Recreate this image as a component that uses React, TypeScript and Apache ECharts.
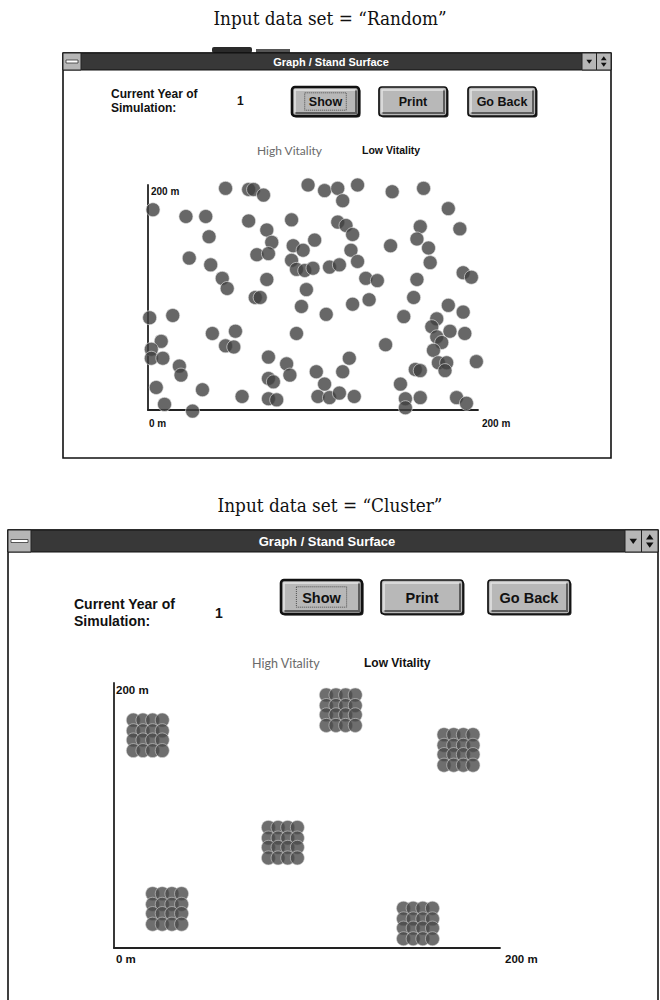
import React, { useEffect, useRef } from "react";
import * as echarts from "echarts";

// ---------- texts ----------
const captions = ["Input data set = \u201cRandom\u201d", "Input data set = \u201cCluster\u201d"];
const windowTitle = "Graph / Stand Surface";
const yearLabel = ["Current Year of", "Simulation:"];
const currentYear = "1";
const buttonLabels = ["Show", "Print", "Go Back"];
const legendLabels = ["High Vitality", "Low Vitality"];
const axisEndLabels = ["0 m", "200 m"];
const axisMin = 0;
const axisMax = 200;

// ---------- data (metres) ----------
const randomTrees: [number, number][] = [
  [3, 178], [47, 197], [61, 196], [64, 196], [70, 191], [97, 200], [23, 172], [35, 172], [61, 168], [87, 169],
  [72, 160], [37, 154], [75, 149], [101, 151], [25, 135], [66, 138], [73, 139], [88, 146], [94, 142], [87, 133],
  [38, 129], [90, 125], [95, 124], [100, 126], [45, 117], [48, 108], [72, 116], [96, 107], [65, 100], [68, 100],
  [107, 195], [115, 197], [118, 186], [127, 200], [148, 194], [167, 197], [182, 179], [115, 167], [120, 164], [124, 156],
  [165, 163], [189, 161], [163, 152], [147, 146], [123, 142], [170, 144], [127, 132], [171, 131], [110, 127], [116, 129],
  [132, 117], [139, 115], [163, 116], [191, 122], [196, 118],
  [93, 92], [1, 82], [15, 84], [39, 68], [53, 70], [90, 68], [8, 61], [47, 57], [52, 56], [2, 54],
  [2, 46], [9, 46], [73, 47], [19, 39], [84, 41], [20, 31], [86, 31], [73, 28], [76, 25], [5, 20],
  [33, 18], [57, 12], [73, 10], [78, 9], [10, 5], [27, -1],
  [108, 85], [124, 94], [134, 98], [161, 100], [182, 93], [191, 87], [155, 83], [175, 81], [172, 74], [183, 70],
  [192, 68], [175, 65], [178, 60], [144, 58], [173, 53], [122, 46], [176, 42], [181, 42], [180, 35], [199, 43],
  [162, 36], [165, 35], [102, 34], [118, 34], [107, 23], [153, 23], [103, 12], [110, 11], [116, 15], [125, 12],
  [156, 10], [165, 11], [156, 2], [187, 11], [193, 6],
];

const clusterA: [number, number][] = [
  [10, 172], [15, 172], [20, 172], [25, 172], [10, 164], [15, 164], [20, 164], [25, 164],
  [10, 157], [15, 157], [20, 157], [25, 157], [10, 149], [15, 149], [20, 149], [25, 149],
];
const clusterB: [number, number][] = [
  [110, 191], [115, 191], [120, 191], [125, 191], [110, 183], [115, 183], [120, 183], [125, 183],
  [110, 176], [115, 176], [120, 176], [125, 176], [110, 168], [115, 168], [120, 168], [125, 168],
];
const clusterC: [number, number][] = [
  [171, 161], [176, 161], [181, 161], [186, 161], [171, 153], [176, 153], [181, 153], [186, 153],
  [171, 146], [176, 146], [181, 146], [186, 146], [171, 138], [176, 138], [181, 138], [186, 138],
];
const clusterD: [number, number][] = [
  [80, 91], [85, 91], [90, 91], [95, 91], [80, 83], [85, 83], [90, 83], [95, 83],
  [80, 76], [85, 76], [90, 76], [95, 76], [80, 68], [85, 68], [90, 68], [95, 68],
];
const clusterE: [number, number][] = [
  [20, 41], [25, 41], [30, 41], [35, 41], [20, 33], [25, 33], [30, 33], [35, 33],
  [20, 26], [25, 26], [30, 26], [35, 26], [20, 18], [25, 18], [30, 18], [35, 18],
];
const clusterF: [number, number][] = [
  [150, 30], [155, 30], [160, 30], [165, 30], [150, 22], [155, 22], [160, 22], [165, 22],
  [150, 15], [155, 15], [160, 15], [165, 15], [150, 7], [155, 7], [160, 7], [165, 7],
];
const clusters = [clusterA, clusterB, clusterC, clusterD, clusterE, clusterF];

// ---------- drawing helpers ----------
const SANS = '"Liberation Sans", Arial, sans-serif';
const HUMAN = 'Lato, "Open Sans", sans-serif';
const SERIF = '"DejaVu Serif", serif';

function txt(x: number, y: number, text: string, size: number, o: any = {}) {
  const align = o.align || "left";
  return {
    type: "text",
    z: 3,
    x,
    y,
    scaleX: o.sx || 1,
    style: {
      text,
      x: 0,
      y: 0,
      font: `${o.weight || "normal"} ${size}px ${o.family || SANS}`,
      fill: o.fill || "#111",
      align,
      textAlign: align,
      verticalAlign: "middle",
      textVerticalAlign: "middle",
    },
  };
}

function chrome(x: number, y: number, w: number, h: number, tb: number, bw: number, ts: number) {
  const els: any[] = [];
  els.push({ type: "rect", z: 0, shape: { x, y, width: w, height: h }, style: { fill: "#fff", stroke: "#111", lineWidth: 1.6 } });
  els.push({ type: "rect", z: 1, shape: { x, y, width: w, height: tb }, style: { fill: "#383838", stroke: "#111", lineWidth: 1 } });
  // system menu box
  els.push({ type: "rect", z: 2, shape: { x, y, width: tb + 1, height: tb }, style: { fill: "#b6b6b6", stroke: "#222", lineWidth: 1 } });
  els.push({ type: "rect", z: 2, shape: { x: x + 3, y: y + tb / 2 - 1.5, width: tb - 5, height: 3 }, style: { fill: "#fff", stroke: "#333", lineWidth: 0.8 } });
  // min / max boxes
  const b1 = x + w - 2 * bw;
  const b2 = x + w - bw;
  els.push({ type: "rect", z: 2, shape: { x: b1, y, width: bw, height: tb }, style: { fill: "#b6b6b6", stroke: "#222", lineWidth: 1 } });
  els.push({ type: "rect", z: 2, shape: { x: b2, y, width: bw, height: tb }, style: { fill: "#b6b6b6", stroke: "#222", lineWidth: 1 } });
  const c1 = b1 + bw / 2;
  const c2 = b2 + bw / 2;
  const my = y + tb / 2;
  const t = tb * 0.17;
  els.push({ type: "polygon", z: 3, shape: { points: [[c1 - t, my - t * 0.6], [c1 + t, my - t * 0.6], [c1, my + t * 0.8]] }, style: { fill: "#111" } });
  els.push({ type: "polygon", z: 3, shape: { points: [[c2 - t, my - t * 0.4], [c2 + t, my - t * 0.4], [c2, my - t * 1.8]] }, style: { fill: "#111" } });
  els.push({ type: "polygon", z: 3, shape: { points: [[c2 - t, my + t * 0.4], [c2 + t, my + t * 0.4], [c2, my + t * 1.8]] }, style: { fill: "#111" } });
  els.push(txt(x + w / 2 - 6, y + tb / 2 + 0.5, windowTitle, ts, { weight: "bold", fill: "#fff", align: "center" }));
  return els;
}

function button(x: number, y: number, w: number, h: number, label: string, size: number, isDefault: boolean) {
  const els: any[] = [
    { type: "rect", z: 1, shape: { x: x + 1.5, y: y + 1.5, width: w, height: h, r: 3 }, style: { fill: "#2a2a2a" } },
    { type: "rect", z: 1, shape: { x, y, width: w, height: h, r: 3 }, style: { fill: "#b8b8b8", stroke: "#111", lineWidth: isDefault ? 2.6 : 1.7 } },
    { type: "polyline", z: 2, shape: { points: [[x + 3, y + h - 3.5], [x + 3, y + 3], [x + w - 3.5, y + 3]] }, style: { stroke: "#e4e4e4", lineWidth: 1.5, fill: null } },
    { type: "polyline", z: 2, shape: { points: [[x + 3.5, y + h - 3], [x + w - 3, y + h - 3], [x + w - 3, y + 3.5]] }, style: { stroke: "#5c5c5c", lineWidth: 2, fill: null } },
    txt(x + w / 2, y + h / 2 + 0.5, label, size, { weight: "bold", align: "center" }),
  ];
  if (isDefault) {
    els.push({
      type: "rect", z: 2,
      shape: { x: x + w * 0.19, y: y + h * 0.2, width: w * 0.62, height: h * 0.6 },
      style: { fill: null, stroke: "#333", lineWidth: 0.8, lineDash: [1, 1] },
    });
  }
  return els;
}

function panel(p: any) {
  const els: any[] = [];
  els.push(...chrome(p.x, p.y, p.w, p.h, p.tb, p.bw, p.ts));
  els.push(txt(p.yearX, p.yearY1, yearLabel[0], p.fs, { weight: "bold" }));
  els.push(txt(p.yearX, p.yearY2, yearLabel[1], p.fs, { weight: "bold" }));
  els.push(txt(p.oneX, (p.yearY1 + p.yearY2) / 2, currentYear, p.fs, { weight: "bold" }));
  buttonLabels.forEach((b, i) => {
    els.push(...button(p.btnX[i], p.btnY, p.btnW[i], p.btnH, b, p.bfs, i === 0));
  });
  els.push(txt(p.legX[0], p.legY, legendLabels[0], p.lfs0, { family: HUMAN, fill: "#6a6a6a" }));
  els.push(txt(p.legX[1], p.legY, legendLabels[1], p.lfs1, { weight: "bold" }));
  els.push(txt(p.ax[0], p.ax[1], axisEndLabels[1], p.afs, { weight: "bold" }));
  els.push(txt(p.ax[2], p.ax[3], axisEndLabels[0], p.afs, { weight: "bold" }));
  els.push(txt(p.ax[4], p.ax[3], axisEndLabels[1], p.afs, { weight: "bold" }));
  return els;
}

const topPanel = {
  x: 63, y: 53, w: 548, h: 405, tb: 17, bw: 14.5, ts: 11,
  yearX: 111, yearY1: 94, yearY2: 108, fs: 12, oneX: 237,
  btnX: [292, 379, 468], btnW: [67, 68, 68], btnY: 87, btnH: 29, bfs: 12.5,
  legX: [257, 362], legY: 150, lfs0: 12, lfs1: 10.5,
  ax: [151, 191, 149, 423, 482], afs: 10,
};
const bottomPanel = {
  x: 8, y: 530, w: 650, h: 475, tb: 22, bw: 16.5, ts: 13,
  yearX: 74, yearY1: 604, yearY2: 621, fs: 14, oneX: 215,
  btnX: [281, 381, 488], btnW: [81, 82, 82], btnY: 580, btnH: 34, bfs: 14.5,
  legX: [252, 364], legY: 663, lfs0: 12.5, lfs1: 12,
  ax: [116, 690, 116, 959, 505], afs: 11.5,
};

function axisX(i: number) {
  return {
    gridIndex: i, type: "value", min: axisMin, max: axisMax, z: 5,
    axisLine: { show: true, onZero: false, lineStyle: { color: "#222", width: 1.8 } },
    axisTick: { show: false }, axisLabel: { show: false }, splitLine: { show: false },
  };
}

export default function App() {
  const ref = useRef<HTMLDivElement>(null);
  useEffect(() => {
    document.body.style.margin = "0";
    const chart = echarts.init(ref.current!, undefined, { renderer: "svg" });
    const elements: any[] = [
      { type: "rect", z: 0, shape: { x: 212, y: 47, width: 40, height: 6, r: 2 }, style: { fill: "#2a2a2a" } },
      { type: "rect", z: 0, shape: { x: 256, y: 49, width: 34, height: 4 }, style: { fill: "#555" } },
      txt(330, 18, captions[0], 19, { family: SERIF, align: "center", sx: 0.89 }),
      txt(330, 505, captions[1], 19, { family: SERIF, align: "center", sx: 0.89 }),
      ...panel(topPanel),
      ...panel(bottomPanel),
    ];
    chart.setOption({
      animation: false,
      backgroundColor: "#fff",
      grid: [
        { left: 148, top: 185, width: 330, height: 225 },
        { left: 114, top: 683, width: 386, height: 265 },
      ],
      xAxis: [axisX(0), axisX(1)],
      yAxis: [axisX(0), axisX(1)],
      series: [
        {
          type: "scatter", name: "Random", xAxisIndex: 0, yAxisIndex: 0, data: randomTrees,
          symbolSize: 14, clip: false, z: 6,
          itemStyle: { color: "#414141", borderColor: "rgba(230,230,230,0.8)", borderWidth: 1 },
        },
        ...clusters.map((c, i) => ({
          type: "scatter", name: "Cluster " + (i + 1), xAxisIndex: 1, yAxisIndex: 1, data: c,
          symbolSize: 14, clip: false, z: 6,
          itemStyle: { color: "#4a4a4a", borderColor: "rgba(215,215,215,0.9)", borderWidth: 0.8 },
        })),
      ],
      graphic: { elements },
    });
    return () => chart.dispose();
  }, []);
  return <div ref={ref} style={{ width: 660, height: 1000, background: "#fff" }} />;
}
